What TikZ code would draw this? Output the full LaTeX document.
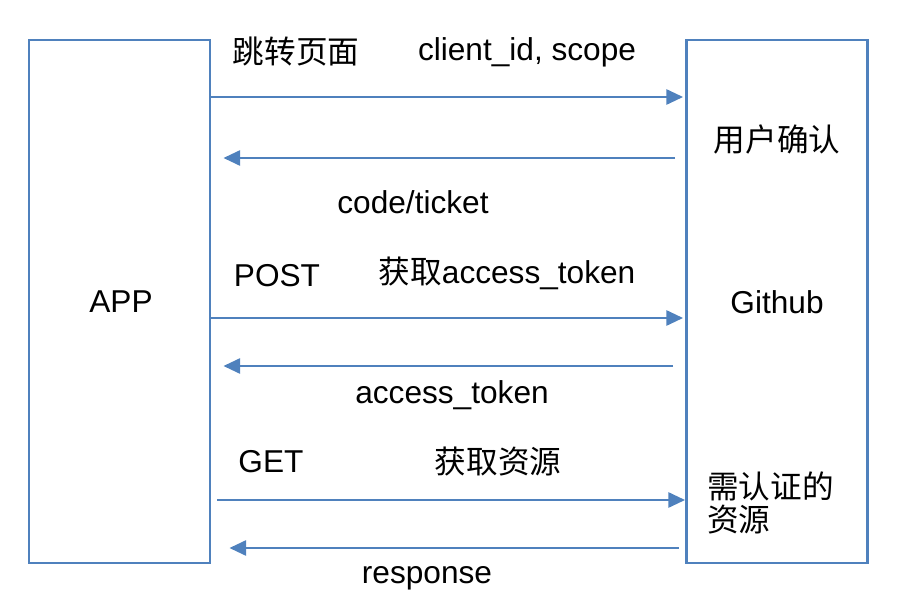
\documentclass[tikz,border=0pt]{standalone}
\usepackage{fontspec}
\setmainfont{Liberation Sans}
\newfontfamily\cjk{Noto Sans CJK SC}
\usetikzlibrary{arrows.meta}
\definecolor{boxblue}{HTML}{4F81BD}

\begin{document}
\begin{tikzpicture}[x=0.02cm, y=-0.02cm,
    party/.style={draw=boxblue, line width=1.6pt, minimum width=3.62cm, minimum height=10.46cm, inner sep=0pt},
    msg/.style={draw=boxblue, line width=1.6pt, -{Triangle[length=9.5pt,width=8.5pt]}},
    lbl/.style={font=\fontsize{18}{22}\selectfont, inner sep=0pt}]
\useasboundingbox (0,0) rectangle (917,598);

% Parties
\node[party] (app) at (119.5,301.5) {};
\node[party] (github) at (777,301.5) {};

% Message heights
\coordinate (m1) at (0,97);
\coordinate (m2) at (0,158);
\coordinate (m3) at (0,318);
\coordinate (m4) at (0,366);
\coordinate (m5) at (0,500);
\coordinate (m6) at (0,548);

% Messages
\draw[msg] (app.east |- m1) -- ([xshift=-0.04cm]github.west |- m1);
\draw[msg] ([xshift=-0.2cm]github.west |- m2) -- ([xshift=0.24cm]app.east |- m2);
\draw[msg] (app.east |- m3) -- ([xshift=-0.04cm]github.west |- m3);
\draw[msg] ([xshift=-0.24cm]github.west |- m4) -- ([xshift=0.24cm]app.east |- m4);
\draw[msg] ([xshift=0.12cm]app.east |- m5) -- (github.west |- m5);
\draw[msg] ([xshift=-0.12cm]github.west |- m6) -- ([xshift=0.36cm]app.east |- m6);

% Labels
\node[lbl] (appname) at (121,302) {APP};
\node[lbl] (ghname) at (777,302) {Github};
\node[lbl] (jump) at (296,52) {\cjk 跳转页面};
\node[lbl] (scope) at (527,52) {client\_id, scope};
\node[lbl] (confirm) at (777,139) {\cjk 用户确认};
\node[lbl] (code) at (413,202) {code/ticket};
\node[lbl] (post) at (277,276) {POST};
\node[lbl] (gettoken) at (507,273) {{\cjk 获取}access\_token};
\node[lbl] (token) at (452,395) {access\_token};
\node[lbl] (get) at (271,462) {GET};
\node[lbl] (getres) at (498,462) {\cjk 获取资源};
\node[lbl, anchor=west, align=left, font=\fontsize{18}{19}\cjk] (res) at (707,503) {需认证的\\资源};
\node[lbl] (resp) at (427,578) {response};
\end{tikzpicture}
\end{document}
